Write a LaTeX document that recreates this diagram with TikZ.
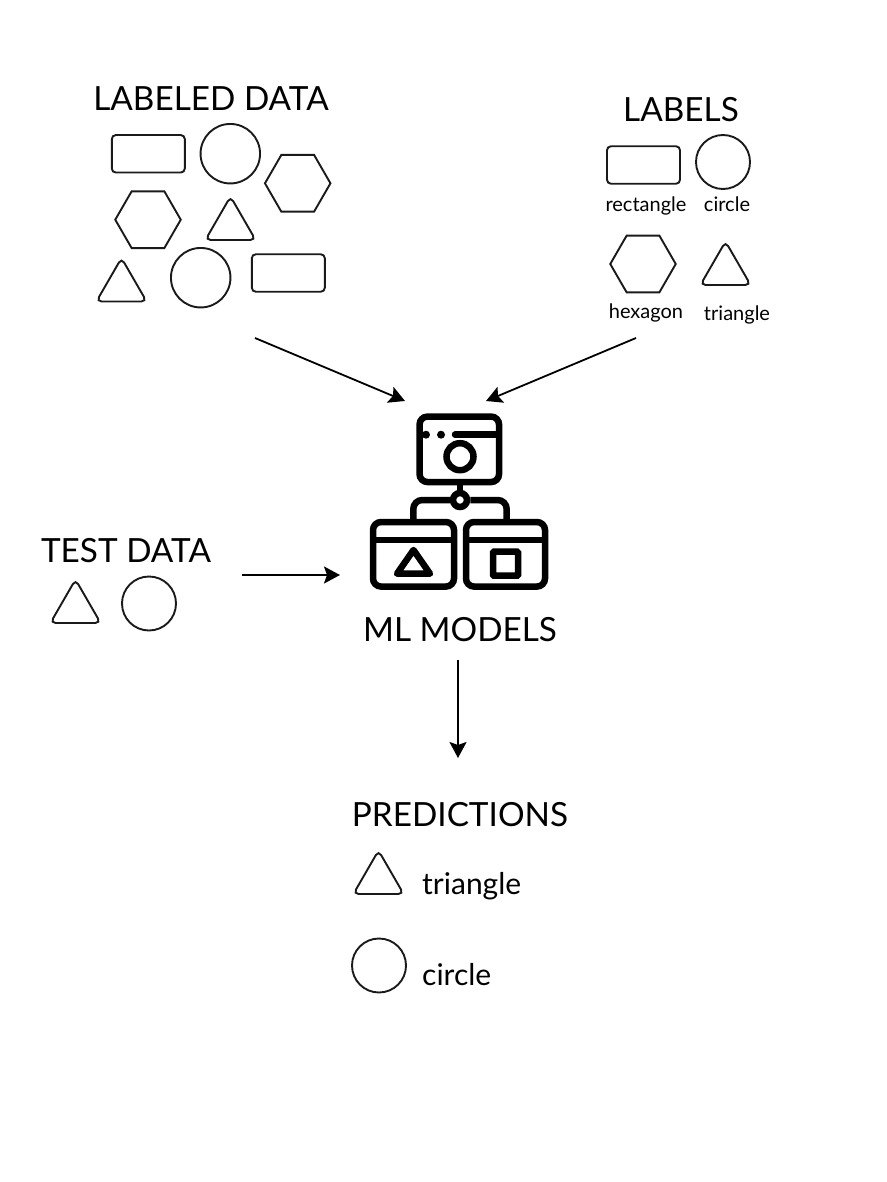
\documentclass[tikz,border=0pt]{standalone}
\usepackage{fontspec}
\setmainfont{Lato}
\usetikzlibrary{arrows.meta,shapes.geometric}
\definecolor{shapeink}{HTML}{1A1A1A}
\begin{document}
\begin{tikzpicture}[
  x=1pt,y=-1pt,
  outline/.style={draw=shapeink,line width=1.9pt,inner sep=0pt},
  rectshape/.style={outline,rectangle,rounded corners=4pt,minimum width=73pt,minimum height=37.5pt},
  circshape/.style={outline,circle,minimum size=59.5pt},
  smallcirc/.style={outline,circle,minimum size=54pt},
  hexshape/.style={outline,regular polygon,regular polygon sides=6,minimum size=65.5pt},
  trishape/.style={outline,regular polygon,regular polygon sides=3,rounded corners=5.2pt,minimum size=58pt},
  title/.style={font=\fontsize{33.3}{34}\selectfont,anchor=base,inner sep=0pt},
  caption/.style={font=\fontsize{20}{20}\selectfont,anchor=base,inner sep=0pt},
  predtext/.style={font=\fontsize{30}{30}\selectfont,anchor=base west,inner sep=0pt},
  arrow/.style={-{Stealth[length=16pt,width=17pt,inset=3pt]},draw=black,line width=1.8pt},
  window/.style={draw=black,line width=6.5pt,rectangle,rounded corners=8pt,inner sep=0pt},
  iconline/.style={draw=black,line width=6.5pt},
  icondot/.style={fill=black,circle,inner sep=0pt,minimum size=8pt}
]
\useasboundingbox (0,0) rectangle (886,1182);
\node[title] (labeleddata) at (211,111) {LABELED DATA};
\node[rectshape] (ra) at (148.3,153.8) {};
\node[circshape] (ca) at (230.3,153.7) {};
\node[hexshape] (ha) at (297.7,183.3) {};
\node[hexshape] (hb) at (148,219.7) {};
\node[trishape] (ta) at (230.5,225.5) {};
\node[trishape] (tb) at (121.5,287) {};
\node[circshape] (cb) at (200.7,277.7) {};
\node[rectshape] (rb) at (288.3,273) {};
\node[title] (labels) at (681,121.5) {LABELS};
\node[rectshape] (rl) at (643.5,165) {};
\node[smallcirc] (cl) at (723,162) {};
\node[hexshape] (hl) at (643,264) {};
\node[trishape] (tl) at (725.5,270.5) {};
\node[caption] (rlabel) at (646,212) {rectangle};
\node[caption] (clabel) at (727,212) {circle};
\node[caption] (hlabel) at (646,318) {hexagon};
\node[caption] (tlabel) at (737,320) {triangle};
\node[title] (testdata) at (126,562) {TEST DATA};
\node[trishape] (tt) at (75.5,608.5) {};
\node[smallcirc] (ct) at (149,603.5) {};
\node[window,minimum width=79.5pt,minimum height=65.5pt] (topwin) at (459.3,449.3) {};
\node[window,minimum width=81pt,minimum height=64.5pt] (leftwin) at (413.5,554.3) {};
\node[window,minimum width=79pt,minimum height=64.5pt] (rightwin) at (505.5,554.3) {};
\node[draw=black,line width=6.5pt,circle,inner sep=0pt,minimum size=27pt] (lens) at (460,456.7) {};
\node[draw=black,line width=6.5pt,circle,inner sep=0pt,minimum size=14pt] (hub) at (460,500) {};
\node[draw=black,line width=6.5pt,rectangle,rounded corners=1pt,inner sep=0pt,minimum width=25pt,minimum height=24pt] (square) at (505.5,563.7) {};
\node[icondot] (dota) at (426,434.7) {};
\node[icondot] (dotb) at (441,434.7) {};
\coordinate (barstart) at (455,434.7);
\coordinate (barend) at (496,434.7);
\draw[iconline,line cap=round] (barstart) -- (barend);
\draw[iconline] (leftwin.west |- 0,540) -- (leftwin.east |- 0,540);
\draw[iconline] (rightwin.west |- 0,540) -- (rightwin.east |- 0,540);
\draw[iconline,line join=round] (413.5,550) -- (397,573.7) -- (430,573.7) -- cycle;
\draw[iconline] (topwin) ++(0.7,32.7) -- (hub.north);
\draw[iconline,rounded corners=9pt] (hub.west) -| (413.3,521.7);
\draw[iconline,rounded corners=9pt] (hub.east) -| (506.7,521.7);
\node[title] (mlmodels) at (460,641) {ML MODELS};
\node[title] (predictions) at (460,826) {PREDICTIONS};
\node[trishape] (tp) at (378.5,879.5) {};
\node[smallcirc] (cp) at (379,965.5) {};
\node[predtext] (ptri) at (422,894) {triangle};
\node[predtext] (pcirc) at (422,985) {circle};
\coordinate (fromdata) at (255,338);
\coordinate (fromlabels) at (636,338);
\coordinate (fromtest) at (242,575);
\coordinate (frommodel) at (458,660);
\coordinate (todata) at (405,401);
\coordinate (tolabels) at (486,401);
\coordinate (totest) at (340,575);
\coordinate (topred) at (458,758);
\draw[arrow] (fromdata) -- (todata);
\draw[arrow] (fromlabels) -- (tolabels);
\draw[arrow] (fromtest) -- (totest);
\draw[arrow] (frommodel) -- (topred);
\end{tikzpicture}
\end{document}
